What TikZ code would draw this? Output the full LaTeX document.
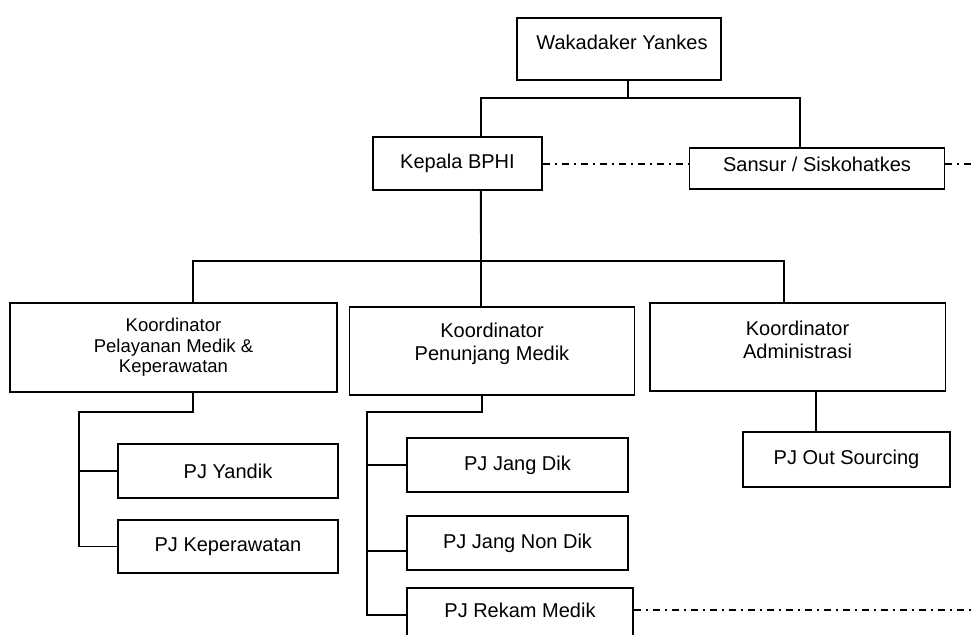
\documentclass[tikz,border=0pt]{standalone}
\usepackage{fontspec}
\setmainfont{Liberation Sans}
\begin{document}
\begin{tikzpicture}[x=1bp,y=-1bp,
  box/.style={draw,line width=1.9bp,inner sep=0pt,align=center,
    font=\fontsize{20bp}{23bp}\selectfont},
  txt/.style={inner sep=0pt,align=center,font=\fontsize{20bp}{23bp}\selectfont},
  small/.style={font=\fontsize{18.5bp}{20.5bp}\selectfont},
  link/.style={line width=1.9bp},
  dashdot/.style={line width=1.2bp,dash pattern=on 7bp off 5bp on 2bp off 5bp}]
\useasboundingbox (0,0) rectangle (972,635);

% top level
\node[box,minimum width=204,minimum height=62] (wak) at (619,49) {};
\node[txt] (wakt) at (622,42) {Wakadaker Yankes};
\node[box,minimum width=169,minimum height=53] (kep) at (457.5,163.5) {Kepala BPHI};
\node[box,minimum width=256,minimum height=41] (san) at (817,168.5) {};
\node[txt] (sant) at (817,164) {Sansur / Siskohatkes};

% coordinators
\node[box,small,minimum width=329,minimum height=89] (kpm) at (173.5,347.5)
  {Koordinator\\Pelayanan Medik \&\\Keperawatan};
\node[box,minimum width=286,minimum height=88] (kpen) at (492,351) {};
\node[txt] (kpent) at (492,343.5) {Koordinator\\Penunjang Medik};
\node[box,minimum width=297,minimum height=88] (kadm) at (797.5,347) {};
\node[txt] (kadmt) at (797.5,339.5) {Koordinator\\Administrasi};

% units
\node[box,minimum width=220,minimum height=54] (yan) at (228,471) {PJ Yandik};
\node[box,minimum width=220,minimum height=53] (kpr) at (228,546.5) {PJ Keperawatan};
\node[box,minimum width=221,minimum height=54] (jd) at (517.5,465) {PJ Jang Dik};
\node[box,minimum width=221,minimum height=54] (jnd) at (517.5,543) {PJ Jang Non Dik};
\node[box,minimum width=226,minimum height=54] (rm) at (520,615) {};
\node[txt] (rmt) at (520,610) {PJ Rekam Medik};
\node[box,minimum width=207,minimum height=55] (out) at (846.5,459.5) {PJ Out Sourcing};

% junction points
\coordinate (j1) at (628,98);
\coordinate (j2) at (481,261);
\coordinate (pv) at (79,412);
\coordinate (qv) at (367,412);
\coordinate (edge) at (972,0);

% tree connectors
\draw[link] (wak.south -| j1) -- (j1);
\draw[link] ([xshift=23.5]kep.north) |- (j1) -| ([xshift=-17]san.north);
\draw[link] ([xshift=23.5]kep.south) -- (kpen.north -| j2);
\draw[link] ([xshift=19.5]kpm.north) |- (j2) -| ([xshift=-13.5]kadm.north);

\draw[link] ([xshift=19.5]kpm.south) |- (pv) |- (kpr.west);
\draw[link] (pv |- yan.west) -- (yan.west);

\draw[link] ([xshift=-10]kpen.south) |- (qv) |- (rm.west);
\draw[link] (qv |- jd.west) -- (jd.west);
\draw[link] (qv |- 0,551) -- (jnd.west |- 0,551);

\draw[link] ([xshift=18.5]kadm.south) -- ([xshift=18.5]kadm.south |- out.north);

% staff (dash-dot) relations
\draw[dashdot] (kep.east |- sant) -- (san.west |- sant);
\draw[dashdot] (san.east |- sant) -- (sant -| edge);
\draw[dashdot] (rm.east |- rmt) -- (rmt -| edge);
\end{tikzpicture}
\end{document}
